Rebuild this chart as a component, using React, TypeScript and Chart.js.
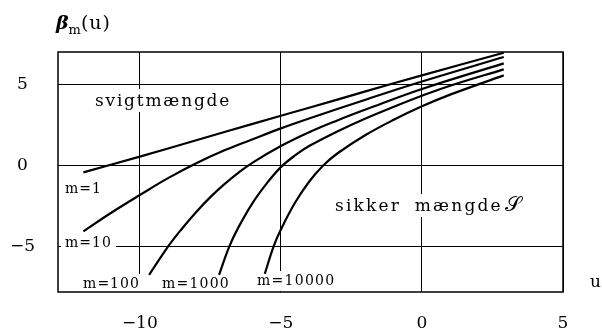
import React, { useEffect, useRef } from 'react';
import { Chart, registerables } from 'chart.js';

Chart.register(...registerables);

// ---- data ----
const U_M1 = [-12, -10, -8, -6, -4, -2, 0, 2.9];
const B_M1 = [-0.42, 0.55, 1.56, 2.57, 3.56, 4.57, 5.56, 6.95];

const U_M10 = [-12, -11, -10, -9, -8, -7, -6, -5, -4, -2, 0, 2.9];
const B_M10 = [-4.06, -2.9, -1.82, -0.78, 0.14, 0.94, 1.62, 2.29, 2.9, 4.06, 5.18, 6.69];

const U_M100 = [-9.67, -9, -8.5, -8, -7.5, -7, -6.5, -6, -5, -4, -3, -2, 0, 2.9];
const B_M100 = [-6.74, -5.0, -3.88, -2.86, -1.95, -1.15, -0.44, 0.18, 1.2, 2.05, 2.78, 3.45, 4.72, 6.3];

const U_M1000 = [-7.19, -6.83, -6.5, -6, -5.5, -5, -4.5, -4, -3, -2, -1, 0, 1, 2.9];
const B_M1000 = [-6.74, -5.0, -3.8, -2.3, -1.1, -0.1, 0.62, 1.2, 2.1, 2.9, 3.62, 4.3, 4.92, 5.93];

const U_M10000 = [-5.57, -5.26, -5, -4.5, -4, -3.5, -3, -2, -1, 0, 1, 2.9];
const B_M10000 = [-6.68, -5.0, -3.95, -2.3, -1.0, 0.0, 0.74, 1.88, 2.82, 3.65, 4.37, 5.56];

const CURVE_LABELS = ['m=1', 'm=10', 'm=100', 'm=1000', 'm=10000'];
const FAIL_LABEL = 'svigtmængde';
const SAFE_LABEL = 'sikker mængde';
const SAFE_SYMBOL = '𝒮';
const Y_TITLE = ['β', 'm', '(u)'];
const X_TITLE = 'u';

const X_TICKS = [-10, -5, 0, 5];
const Y_TICKS = [-5, 0, 5];
const X_MIN = -12.9;
const X_MAX = 5;
const Y_MIN = -7.8;
const Y_MAX = 7;

const SERIES = [
  { u: U_M1, b: B_M1 },
  { u: U_M10, b: B_M10 },
  { u: U_M100, b: B_M100 },
  { u: U_M1000, b: B_M1000 },
  { u: U_M10000, b: B_M10000 },
];

const SERIF = '"DejaVu Serif", serif';
const fmt = (v: number) => (v < 0 ? '\u2212' + Math.abs(v) : String(v));

// text placements (data coordinates of left/baseline)
const TEXT_ITEMS = [
  { text: CURVE_LABELS[0], u: -12.65, b: -1.7, size: 14, ls: 1, ws: 0 },
  { text: CURVE_LABELS[1], u: -12.65, b: -5.03, size: 14, ls: 1, ws: 0 },
  { text: CURVE_LABELS[2], u: -12.01, b: -7.55, size: 14, ls: 1, ws: 0 },
  { text: CURVE_LABELS[3], u: -9.21, b: -7.55, size: 14, ls: 1.2, ws: 0 },
  { text: CURVE_LABELS[4], u: -5.85, b: -7.37, size: 14, ls: 1.3, ws: 0 },
  { text: FAIL_LABEL, u: -11.59, b: 3.67, size: 17, ls: 1.8, ws: 0 },
  { text: SAFE_LABEL, u: -3.08, b: -2.81, size: 17, ls: 2.2, ws: 6 },
  { text: SAFE_SYMBOL, u: 2.95, b: -2.81, size: 21, ls: 0, ws: 0 },
];

const overlay = {
  id: 'overlay',
  beforeDatasetsDraw(chart: any) {
    const ctx = chart.ctx as CanvasRenderingContext2D;
    const xs = chart.scales.x;
    const ys = chart.scales.y;
    ctx.save();
    for (const it of TEXT_ITEMS) {
      ctx.font = `${it.size}px ${SERIF}`;
      (ctx as any).letterSpacing = `${it.ls}px`;
      (ctx as any).wordSpacing = `${it.ws}px`;
      const w = ctx.measureText(it.text).width;
      const x = xs.getPixelForValue(it.u);
      const y = ys.getPixelForValue(it.b);
      ctx.fillStyle = '#fff';
      ctx.fillRect(x - 4, y - it.size, w + 8, it.size + 6);
    }
    ctx.restore();
  },
  afterDatasetsDraw(chart: any) {
    const ctx = chart.ctx as CanvasRenderingContext2D;
    const xs = chart.scales.x;
    const ys = chart.scales.y;
    const a = chart.chartArea;
    ctx.save();
    ctx.strokeStyle = '#000';
    ctx.lineWidth = 1.5;
    ctx.strokeRect(a.left, a.top, a.right - a.left, a.bottom - a.top);

    ctx.fillStyle = '#000';
    ctx.textBaseline = 'alphabetic';
    ctx.textAlign = 'left';
    for (const it of TEXT_ITEMS) {
      ctx.font = `${it.size}px ${SERIF}`;
      (ctx as any).letterSpacing = `${it.ls}px`;
      (ctx as any).wordSpacing = `${it.ws}px`;
      ctx.fillText(it.text, xs.getPixelForValue(it.u), ys.getPixelForValue(it.b));
    }
    (ctx as any).letterSpacing = '0px';
    (ctx as any).wordSpacing = '0px';

    // y title  β_m(u)
    ctx.font = `bold italic 19px ${SERIF}`;
    let tx = a.left - 2;
    const ty = a.top - 23;
    ctx.fillText(Y_TITLE[0], tx, ty);
    tx += ctx.measureText(Y_TITLE[0]).width;
    ctx.font = `13px ${SERIF}`;
    ctx.fillText(Y_TITLE[1], tx, ty + 5);
    tx += ctx.measureText(Y_TITLE[1]).width;
    ctx.font = `19px ${SERIF}`;
    (ctx as any).letterSpacing = '1px';
    ctx.fillText(Y_TITLE[2], tx, ty);
    (ctx as any).letterSpacing = '0px';

    // x title u
    ctx.font = `17px ${SERIF}`;
    ctx.fillText(X_TITLE, a.right + 27, a.bottom - 5);
    ctx.restore();
  },
};

export default function App() {
  const ref = useRef<HTMLCanvasElement | null>(null);

  useEffect(() => {
    if (!ref.current) return;
    const chart = new Chart(ref.current, {
      type: 'scatter',
      data: {
        datasets: SERIES.map((s, i) => ({
          label: CURVE_LABELS[i],
          data: s.u.map((u, j) => ({ x: u, y: s.b[j] })),
          showLine: true,
          borderColor: '#000',
          borderWidth: 2.2,
          pointRadius: 0,
          tension: 0.4,
          fill: false,
        })),
      },
      options: {
        animation: false,
        responsive: false,
        devicePixelRatio: 1,
        layout: { padding: { top: 52, right: 39, left: 0, bottom: 0 } },
        plugins: {
          legend: { display: false },
          tooltip: { enabled: false },
        },
        scales: {
          x: {
            type: 'linear',
            min: X_MIN,
            max: X_MAX,
            afterBuildTicks: (scale: any) => {
              scale.ticks = X_TICKS.map((v) => ({ value: v }));
            },
            afterFit: (scale: any) => {
              scale.height = 40;
            },
            grid: { color: '#000', lineWidth: 1, drawTicks: false },
            border: { display: false },
            ticks: {
              color: '#000',
              font: { family: SERIF, size: 17 },
              padding: 21,
              maxRotation: 0,
              autoSkip: false,
              callback: (v: any) => fmt(Number(v)),
            },
          },
          y: {
            type: 'linear',
            min: Y_MIN,
            max: Y_MAX,
            afterBuildTicks: (scale: any) => {
              scale.ticks = Y_TICKS.map((v) => ({ value: v }));
            },
            afterFit: (scale: any) => {
              scale.width = 58;
            },
            grid: { color: '#000', lineWidth: 1, drawTicks: false },
            border: { display: false },
            ticks: {
              color: '#000',
              font: { family: SERIF, size: 17 },
              padding: 23,
              crossAlign: 'center',
              autoSkip: false,
              callback: (v: any) => fmt(Number(v)),
            },
          },
        },
      },
      plugins: [overlay],
    });
    return () => chart.destroy();
  }, []);

  return (
    <div style={{ position: 'fixed', left: 0, top: 0, width: 602, height: 332, background: '#fff' }}>
      <canvas ref={ref} width={602} height={332} style={{ display: 'block', width: 602, height: 332 }} />
    </div>
  );
}
